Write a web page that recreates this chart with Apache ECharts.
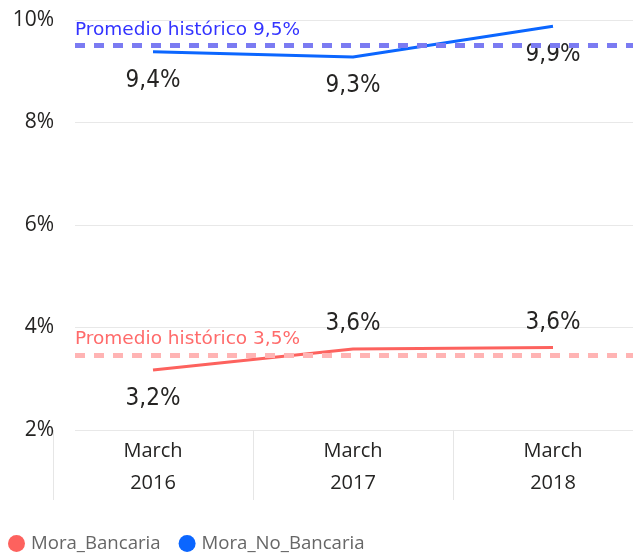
<!DOCTYPE html>
<html><head><meta charset="utf-8">
<script src="https://cdn.jsdelivr.net/npm/echarts@6/dist/echarts.min.js"></script>
<style>html,body{margin:0;padding:0;background:#fff}#c{width:633px;height:554px}</style>
</head><body><div id="c"></div>
<script>
const categories = ['March\n2016', 'March\n2017', 'March\n2018'];
const moraBancaria = [3.17, 3.58, 3.61];
const moraNoBancaria = [9.38, 9.28, 9.88];
const promedioBancaria = 3.46;
const promedioNoBancaria = 9.5;
const yTicks = [2, 4, 6, 8, 10];

const fmt = v => v.toFixed(1).replace('.', ',') + '%';
const labelFont = { fontFamily: 'DejaVu Sans Condensed', fontSize: 24, color: '#252423' };

const chart = echarts.init(document.getElementById('c'));
chart.setOption({
  animation: false,
  grid: [
    { left: 75, right: 0, top: 20, bottom: 124, outerBoundsMode: 'none' },
    { left: 53, right: -20, top: 20, bottom: 124, outerBoundsMode: 'none' }
  ],
  xAxis: [
    { gridIndex: 0, type: 'value', min: 0, max: 1, show: false },
    { gridIndex: 1, type: 'category', data: categories, boundaryGap: true,
      axisLine: { show: false },
      axisTick: { show: true, length: 70, lineStyle: { color: '#e6e6e6', width: 1 } },
      axisLabel: { margin: 5, fontFamily: 'Open Sans', fontSize: 20, lineHeight: 32, color: '#252423' } }
  ],
  yAxis: [
    { gridIndex: 0, type: 'value', min: yTicks[0], max: yTicks[yTicks.length - 1], interval: 2,
      axisLine: { show: false }, axisTick: { show: false },
      axisLabel: { margin: 21, fontFamily: 'Open Sans', fontSize: 21, color: '#252423', formatter: '{value}%' },
      splitLine: { lineStyle: { color: '#e8e8e8', width: 1 } } },
    { gridIndex: 1, type: 'value', min: yTicks[0], max: yTicks[yTicks.length - 1], show: false }
  ],
  legend: {
    data: ['Mora_Bancaria', 'Mora_No_Bancaria'],
    left: 3, top: 529, icon: 'circle', itemWidth: 17, itemHeight: 17, itemGap: 18,
    textStyle: { fontFamily: 'Open Sans', fontSize: 18.6, color: '#666', padding: [0, 0, 0, 1] }
  },
  series: [
    { type: 'line', xAxisIndex: 0, yAxisIndex: 0, data: [], silent: true,
      markLine: {
        symbol: 'none', silent: true,
        data: [
          { yAxis: promedioNoBancaria,
            lineStyle: { color: '#7b7bf2', type: [10, 9], width: 5 },
            label: { position: 'insideStartTop', distance: [0, 6], formatter: 'Promedio histórico ' + fmt(promedioNoBancaria),
              color: '#3333ff', fontFamily: 'DejaVu Sans', fontSize: 18.5 } },
          { yAxis: promedioBancaria,
            lineStyle: { color: '#ffb4b4', type: [10, 9], width: 5 },
            label: { position: 'insideStartTop', distance: [0, 6], formatter: 'Promedio histórico ' + fmt(promedioBancaria),
              color: '#ff6b6b', fontFamily: 'DejaVu Sans', fontSize: 18.5 } }
        ]
      } },
    { name: 'Mora_Bancaria', type: 'line', xAxisIndex: 1, yAxisIndex: 1,
      color: '#fd625e', symbol: 'circle', symbolSize: 0, showSymbol: true, lineStyle: { width: 3 },
      data: moraBancaria.map((v, i) => ({ value: v, label: { position: i === 0 ? 'bottom' : 'top', distance: i === 0 ? 17 : 13 } })),
      label: { show: true, formatter: p => fmt(p.value), ...labelFont } },
    { name: 'Mora_No_Bancaria', type: 'line', xAxisIndex: 1, yAxisIndex: 1,
      color: '#0b66ff', symbol: 'circle', symbolSize: 0, showSymbol: true, lineStyle: { width: 3 },
      data: moraNoBancaria,
      label: { show: true, position: 'bottom', distance: 17, formatter: p => fmt(p.value), ...labelFont } }
  ]
});
</script></body></html>
